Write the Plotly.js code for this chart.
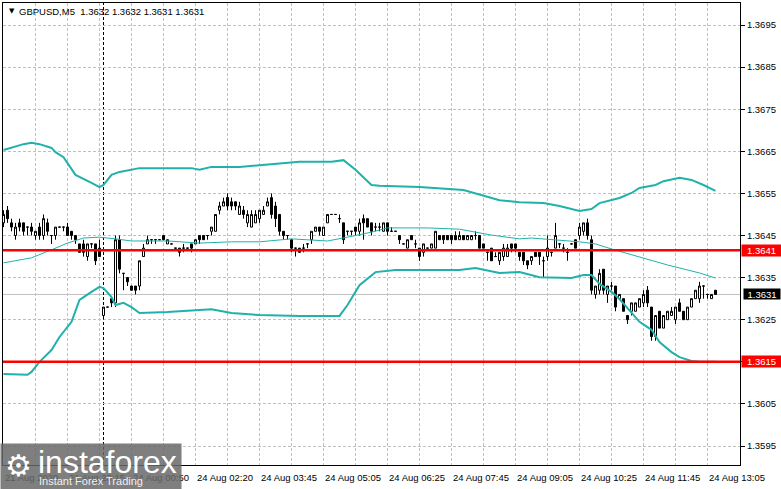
<!DOCTYPE html>
<html><head><meta charset="utf-8">
<script src="https://cdn.plot.ly/plotly-3.0.1.min.js"></script>
<style>html,body{margin:0;padding:0;background:#fff}#chart{width:781px;height:489px}</style>
</head><body><div id="chart"></div>
<script>
// ---- data (GBPUSD, M5) ----
const opens = [1.3648,1.3651,1.3648,1.3645,1.3648,1.3648,1.3647,1.3647,1.3645,1.3647,
1.3645,1.3648,1.3645,1.3645,1.3647,1.3647,1.3647,1.3646,1.3645,1.3643,
1.3643,1.3640,1.3643,1.3643,1.3642,1.3626,1.3628,1.3630,1.3629,1.3644,
1.3636,1.3635,1.3633,1.3633,1.3633,1.3640,1.3643,1.3644,1.3644,1.3644,
1.3645,1.3643,1.3643,1.3642,1.3642,1.3642,1.3642,1.3643,1.3643,1.3645,
1.3645,1.3645,1.3646,1.3646,1.3651,1.3652,1.3654,1.3653,1.3653,1.3650,
1.3651,1.3648,1.3647,1.3648,1.3649,1.3650,1.3652,1.3654,1.3652,1.3650,
1.3646,1.3645,1.3644,1.3642,1.3642,1.3642,1.3643,1.3644,1.3646,1.3647,
1.3645,1.3648,1.3650,1.3650,1.3649,1.3648,1.3646,1.3646,1.3647,1.3646,
1.3649,1.3649,1.3648,1.3647,1.3647,1.3646,1.3648,1.3646,1.3646,1.3645,
1.3643,1.3642,1.3645,1.3643,1.3642,1.3641,1.3642,1.3642,1.3642,1.3645,
1.3645,1.3645,1.3645,1.3645,1.3644,1.3645,1.3644,1.3644,1.3645,1.3645,
1.3643,1.3641,1.3642,1.3640,1.3639,1.3640,1.3640,1.3643,1.3643,1.3641,
1.3641,1.3639,1.3639,1.3641,1.3641,1.3639,1.3640,1.3641,1.3642,1.3643,
1.3642,1.3641,1.3643,1.3644,1.3645,1.3646,1.3648,1.3644,1.3631,1.3632,
1.3637,1.3631,1.3633,1.3633,1.3630,1.3630,1.3626,1.3627,1.3627,1.3628,
1.3629,1.3632,1.3628,1.3621,1.3627,1.3623,1.3625,1.3626,1.3625,1.3629,
1.3627,1.3625,1.3628,1.3630,1.3630,1.3633,1.3631,1.3630,1.3632];
const highs = [1.3651,1.3652,1.3649,1.3648,1.3649,1.3648,1.3647,1.3648,1.3646,1.3648,
1.3650,1.3649,1.3645,1.3647,1.3647,1.3647,1.3648,1.3646,1.3645,1.3643,
1.3644,1.3643,1.3643,1.3643,1.3644,1.3628,1.3628,1.3630,1.3645,1.3645,
1.3636,1.3635,1.3633,1.3633,1.3639,1.3643,1.3645,1.3644,1.3644,1.3644,
1.3645,1.3644,1.3643,1.3642,1.3642,1.3643,1.3642,1.3643,1.3644,1.3645,
1.3645,1.3645,1.3647,1.3650,1.3653,1.3654,1.3655,1.3654,1.3653,1.3653,
1.3652,1.3651,1.3651,1.3651,1.3651,1.3652,1.3654,1.3655,1.3653,1.3650,
1.3646,1.3645,1.3644,1.3642,1.3642,1.3643,1.3643,1.3646,1.3647,1.3647,
1.3647,1.3650,1.3650,1.3650,1.3650,1.3648,1.3646,1.3646,1.3647,1.3649,
1.3650,1.3649,1.3648,1.3648,1.3648,1.3648,1.3648,1.3647,1.3646,1.3645,
1.3643,1.3644,1.3645,1.3644,1.3642,1.3643,1.3642,1.3643,1.3646,1.3645,
1.3645,1.3645,1.3645,1.3646,1.3646,1.3645,1.3645,1.3645,1.3646,1.3645,
1.3643,1.3641,1.3642,1.3641,1.3641,1.3643,1.3643,1.3643,1.3643,1.3641,
1.3641,1.3639,1.3640,1.3641,1.3641,1.3640,1.3645,1.3641,1.3648,1.3643,
1.3643,1.3642,1.3643,1.3644,1.3648,1.3648,1.3649,1.3645,1.3633,1.3637,
1.3637,1.3633,1.3634,1.3633,1.3631,1.3630,1.3626,1.3629,1.3629,1.3630,
1.3632,1.3633,1.3628,1.3626,1.3627,1.3626,1.3627,1.3628,1.3628,1.3630,
1.3627,1.3628,1.3630,1.3632,1.3634,1.3633,1.3631,1.3631,1.3632];
const lows = [1.3647,1.3648,1.3646,1.3644,1.3646,1.3645,1.3645,1.3645,1.3644,1.3644,
1.3644,1.3645,1.3643,1.3644,1.3647,1.3646,1.3645,1.3644,1.3643,1.3641,
1.3640,1.3639,1.3642,1.3638,1.3640,1.3625,1.3628,1.3628,1.3628,1.3636,
1.3632,1.3633,1.3632,1.3631,1.3632,1.3640,1.3643,1.3643,1.3643,1.3644,
1.3644,1.3643,1.3643,1.3642,1.3640,1.3641,1.3642,1.3641,1.3643,1.3643,
1.3644,1.3644,1.3645,1.3646,1.3650,1.3652,1.3651,1.3651,1.3651,1.3650,
1.3649,1.3647,1.3647,1.3648,1.3648,1.3650,1.3652,1.3649,1.3647,1.3645,
1.3644,1.3644,1.3641,1.3640,1.3641,1.3641,1.3642,1.3643,1.3646,1.3645,
1.3645,1.3648,1.3650,1.3650,1.3648,1.3643,1.3645,1.3645,1.3645,1.3645,
1.3644,1.3647,1.3645,1.3646,1.3646,1.3646,1.3645,1.3646,1.3646,1.3643,
1.3643,1.3642,1.3644,1.3642,1.3639,1.3640,1.3642,1.3642,1.3642,1.3644,
1.3643,1.3644,1.3643,1.3644,1.3644,1.3644,1.3644,1.3644,1.3644,1.3642,
1.3642,1.3639,1.3639,1.3640,1.3638,1.3639,1.3640,1.3641,1.3641,1.3639,
1.3638,1.3637,1.3638,1.3640,1.3638,1.3635,1.3639,1.3640,1.3642,1.3642,
1.3641,1.3639,1.3643,1.3642,1.3644,1.3645,1.3644,1.3631,1.3630,1.3631,
1.3631,1.3629,1.3632,1.3627,1.3630,1.3627,1.3624,1.3626,1.3627,1.3628,
1.3628,1.3628,1.3620,1.3620,1.3623,1.3623,1.3625,1.3626,1.3624,1.3627,
1.3625,1.3625,1.3628,1.3630,1.3629,1.3630,1.3630,1.3630,1.3631];
const closes = [1.3650,1.3649,1.3647,1.3647,1.3647,1.3646,1.3647,1.3646,1.3646,1.3645,
1.3649,1.3646,1.3645,1.3647,1.3647,1.3647,1.3645,1.3645,1.3644,1.3641,
1.3641,1.3643,1.3643,1.3639,1.3640,1.3628,1.3628,1.3629,1.3644,1.3637,
1.3636,1.3634,1.3632,1.3632,1.3639,1.3642,1.3644,1.3644,1.3644,1.3644,
1.3644,1.3644,1.3643,1.3642,1.3641,1.3642,1.3642,1.3642,1.3644,1.3644,
1.3644,1.3645,1.3647,1.3650,1.3652,1.3653,1.3652,1.3652,1.3652,1.3652,
1.3650,1.3650,1.3650,1.3650,1.3651,1.3651,1.3653,1.3650,1.3649,1.3646,
1.3645,1.3645,1.3642,1.3642,1.3641,1.3642,1.3643,1.3646,1.3647,1.3646,
1.3647,1.3650,1.3650,1.3650,1.3649,1.3644,1.3646,1.3646,1.3646,1.3648,
1.3648,1.3647,1.3646,1.3647,1.3647,1.3648,1.3646,1.3646,1.3646,1.3644,
1.3643,1.3644,1.3644,1.3643,1.3640,1.3643,1.3642,1.3643,1.3646,1.3644,
1.3644,1.3644,1.3644,1.3644,1.3645,1.3644,1.3645,1.3645,1.3645,1.3642,
1.3642,1.3641,1.3639,1.3640,1.3641,1.3642,1.3642,1.3642,1.3642,1.3640,
1.3639,1.3638,1.3640,1.3640,1.3640,1.3639,1.3642,1.3641,1.3645,1.3643,
1.3642,1.3641,1.3643,1.3642,1.3647,1.3648,1.3645,1.3632,1.3633,1.3636,
1.3632,1.3633,1.3633,1.3628,1.3631,1.3627,1.3625,1.3629,1.3629,1.3630,
1.3631,1.3629,1.3621,1.3626,1.3623,1.3626,1.3627,1.3627,1.3628,1.3627,
1.3625,1.3628,1.3630,1.3632,1.3633,1.3633,1.3631,1.3631,1.3631];

// Bollinger bands, read at sampled bars
const upperIdx = [0,2,5,7,9,12,13,15,18,22,24,25,27,29,34,47,49,52,59,64,74,82,85,88,92,94,104,115,124,129,135,139,144,147,149,154,157,159,163,165,169,172,175,178];
const upperVal = [1.36653,1.36658,1.36667,1.36670,1.36667,1.36658,1.36648,1.36636,1.36594,1.36575,1.36565,1.36570,1.36594,1.36601,1.36610,1.36610,1.36606,1.36613,1.36613,1.36617,1.36625,1.36625,1.36629,1.36606,1.36570,1.36568,1.36565,1.36558,1.36534,1.36529,1.36527,1.36520,1.36508,1.36513,1.36527,1.36539,1.36551,1.36563,1.36570,1.36579,1.36587,1.36582,1.36570,1.36556];
const middleIdx = [0,7,12,16,20,24,28,32,41,49,57,64,72,81,86,92,96,106,114,122,129,132,144,148,152,159,166,174,178];
const middleVal = [1.36385,1.36397,1.36416,1.36432,1.36444,1.36446,1.36442,1.36437,1.36437,1.36432,1.36435,1.36435,1.36442,1.36437,1.36446,1.36458,1.36468,1.36468,1.36465,1.36451,1.36442,1.36444,1.36435,1.36430,1.36418,1.36399,1.36380,1.36361,1.36349];
const lowerIdx = [0,6,7,9,12,14,17,19,22,24,25,27,28,30,32,34,41,52,57,64,74,84,86,89,93,98,114,118,124,129,134,142,145,147,149,152,154,157,159,162,164,167,169,172,174,178];
const lowerVal = [1.36121,1.36119,1.36126,1.36150,1.36178,1.36209,1.36245,1.36297,1.36316,1.36328,1.36325,1.36304,1.36285,1.36290,1.36280,1.36266,1.36268,1.36275,1.36266,1.36261,1.36259,1.36259,1.36285,1.36332,1.36363,1.36368,1.36368,1.36373,1.36361,1.36363,1.36351,1.36349,1.36356,1.36356,1.36335,1.36316,1.36299,1.36268,1.36245,1.36226,1.36197,1.36173,1.36161,1.36152,1.36150,1.36150];

const levelPrices = [1.36415, 1.3615];
const levelLabels = ['1.3641', '1.3615'];
const bidPrice = 1.3631;
const bidLabel = '1.3631';
const separatorIdx = 25;

const timeLabelIdx = [0,16,32,48,64,80,96,112,128,144,160,176];
const timeLabels = ['21 Aug 2020','21 Aug 23:15','24 Aug 00:50','24 Aug 02:20','24 Aug 03:45','24 Aug 05:05','24 Aug 06:25','24 Aug 07:45','24 Aug 09:05','24 Aug 10:25','24 Aug 11:45','24 Aug 13:05'];
const priceTicks = [1.3595,1.3605,1.3615,1.3625,1.3635,1.3645,1.3655,1.3665,1.3675,1.3685,1.3695];
const symbolName = 'GBPUSD,M5';

// ---- build ----
const barIdx = opens.map((_, i) => i);
const gridIdx = [];
for (let g = 0; g <= 184; g += 8) gridIdx.push(g);
const FONT = 'Liberation Sans, Arial, sans-serif';
const TEAL = '#20b2aa';

const traces = [
  {type:'candlestick', x:barIdx, open:opens, high:highs, low:lows, close:closes,
   increasing:{line:{color:'#000', width:1}, fillcolor:'#ffffff'},
   decreasing:{line:{color:'#000', width:1}, fillcolor:'#000000'},
   whiskerwidth:0, hoverinfo:'skip', showlegend:false},
  {type:'scatter', mode:'lines', x:upperIdx, y:upperVal, line:{color:TEAL, width:2}, hoverinfo:'skip'},
  {type:'scatter', mode:'lines', x:middleIdx, y:middleVal, line:{color:TEAL, width:1}, hoverinfo:'skip'},
  {type:'scatter', mode:'lines', x:lowerIdx, y:lowerVal, line:{color:TEAL, width:2}, hoverinfo:'skip'}
];

const shapes = [
  {type:'line', xref:'paper', x0:0, x1:1, yref:'y', y0:bidPrice, y1:bidPrice, line:{color:'#c0c0c0', width:1}, layer:'below'},
  {type:'line', xref:'x', x0:separatorIdx, x1:separatorIdx, yref:'paper', y0:0, y1:1, line:{color:'#000', width:1, dash:'3px,2px'}, layer:'below'}
];
levelPrices.forEach(p => shapes.push({type:'line', xref:'paper', x0:0, x1:1, yref:'y', y0:p, y1:p, line:{color:'#ff0000', width:2.5}, layer:'above'}));

const last = opens.length - 1;
const ann = [];
ann.push({xref:'paper', yref:'paper', x:0, y:1, xanchor:'left', yanchor:'middle', xshift:4, yshift:-8,
  text:'\u25BC', showarrow:false, font:{family:'DejaVu Sans', size:7, color:'#000'}});
ann.push({xref:'paper', yref:'paper', x:0, y:1, xanchor:'left', yanchor:'middle', xshift:14, yshift:-8,
  text: symbolName + '\u00a0 ' + [opens[last], highs[last], lows[last], closes[last]].map(v => v.toFixed(4)).join(' '),
  showarrow:false, font:{family:FONT, size:9.5, color:'#000'}});
timeLabelIdx.forEach((ix, k) => ann.push({xref:'x', x:ix, yref:'paper', y:0, xanchor:'left', yanchor:'middle', yshift:-12, xshift:-1,
  text: timeLabels[k], showarrow:false, font:{family:FONT, size:9.5, color:'#000'}}));
levelPrices.forEach((p, k) => ann.push({xref:'paper', x:1, xanchor:'left', xshift:1, yref:'y', y:p, yanchor:'middle',
  text: levelLabels[k], bgcolor:'#ff0000', font:{family:FONT, size:9.5, color:'#fff'}, width:39, height:11, borderpad:0, showarrow:false}));
ann.push({xref:'paper', x:1, xanchor:'left', xshift:2.5, yref:'y', y:bidPrice, yanchor:'middle',
  text: bidLabel, bgcolor:'#000000', font:{family:FONT, size:9.5, color:'#fff'}, width:36, height:10, borderpad:0, showarrow:false});
// watermark logo
ann.push({xref:'paper', yref:'paper', x:0, y:0, xanchor:'left', yanchor:'top', xshift:-3, yshift:22,
  text:'\u00a0', bgcolor:'rgba(105,105,105,0.85)', width:180, height:46, borderpad:0, showarrow:false});
ann.push({xref:'paper', yref:'paper', x:0, y:0, xanchor:'center', yanchor:'middle', xshift:15, yshift:0,
  text:'\u2699', showarrow:false, font:{family:'DejaVu Sans', size:30, color:'#ffffff'}});
ann.push({xref:'paper', yref:'paper', x:0, y:0, xanchor:'left', yanchor:'middle', xshift:33, yshift:3,
  text:'instaforex', showarrow:false, font:{family:FONT, size:32, color:'#ffffff'}});
ann.push({xref:'paper', yref:'paper', x:0, y:0, xanchor:'left', yanchor:'middle', xshift:34, yshift:-16,
  text:'Instant Forex Trading', showarrow:false, font:{family:FONT, size:11, color:'#f0f0f0'}});

const yTop = 1.3700226, yBot = 1.3590487;
const layout = {
  width:781, height:489,
  margin:{l:3, r:41, t:3, b:24, pad:0},
  paper_bgcolor:'#ffffff', plot_bgcolor:'#ffffff',
  showlegend:false, boxgap:0.5, boxgroupgap:0,
  font:{family:FONT, size:9.5, color:'#000'},
  xaxis:{range:[-0.125, 184.125], tickvals:gridIdx, ticktext:gridIdx.map(() => ''), ticks:'',
    showgrid:true, gridcolor:'#c0c0c0', griddash:'3px,2px', gridwidth:1,
    showline:true, mirror:true, linecolor:'#000', linewidth:1, zeroline:false,
    rangeslider:{visible:false}, fixedrange:true},
  yaxis:{side:'right', range:[yBot, yTop], tickvals:priceTicks, ticktext:priceTicks.map(v => v.toFixed(4)),
    showgrid:true, gridcolor:'#c0c0c0', griddash:'3px,2px', gridwidth:1,
    showline:true, mirror:true, linecolor:'#000', linewidth:1, ticks:'outside', ticklen:4, tickcolor:'#000',
    zeroline:false, tickfont:{family:FONT, size:9.5, color:'#000'}, fixedrange:true},
  shapes:shapes, annotations:ann
};
Plotly.newPlot('chart', traces, layout, {staticPlot:true, displayModeBar:false});
</script></body></html>
